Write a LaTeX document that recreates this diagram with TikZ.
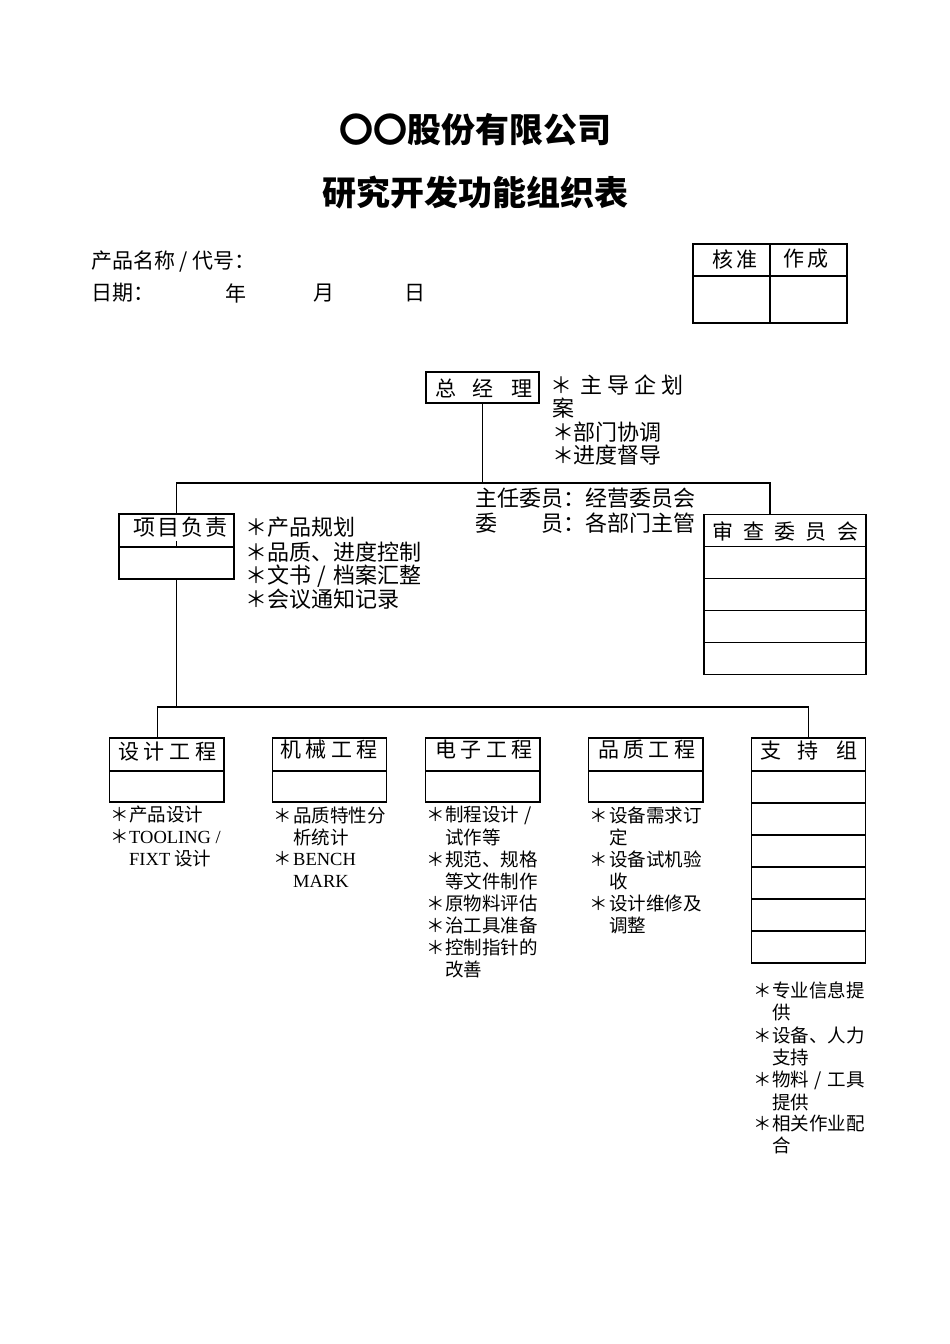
\documentclass[tikz,border=0pt]{standalone}
\usepackage{fontspec}
\setmainfont{Noto Sans CJK SC}
\newfontfamily\lat{Liberation Serif}
\newcommand\spreadtxt[2]{\makebox[#1][s]{#2}}
\newcommand\xing[1]{\makebox[#1][l]{\kern-0.22em ＊}}
\newcommand\slsh{\makebox[1em]{/}}
\begin{document}
\begin{tikzpicture}[x=1pt,y=-1pt,
  box/.style={draw, line width=1.1pt, inner sep=0pt, outer sep=0pt, minimum width=114.5pt},
  conn/.style={line width=1.1pt},
  ttl/.style={inner sep=0pt, font=\fontsize{34}{40}\selectfont\bfseries},
  hd/.style={inner sep=0pt, font=\fontsize{21}{25}\selectfont},
  note/.style={inner sep=0pt, anchor=west, font=\fontsize{22}{26}\selectfont},
  bt/.style={inner sep=0pt, font=\fontsize{21}{25}\selectfont},
  li/.style={inner sep=0pt, anchor=west, font=\fontsize{18.5}{22}\selectfont}]
\useasboundingbox (0,0) rectangle (950,1344);
% titles
\node[ttl] (t1) at (475,130) {〇〇股份有限公司};
\node[ttl] (t2) at (475,193) {研究开发功能组织表};
% header
\node[hd, anchor=west] (pn) at (91,262) {产品名称 / 代号：};
\node[hd, anchor=west] (dt) at (91,293) {日期：};
\node[hd] (yr) at (236,293) {年};
\node[hd] (mo) at (324,293) {月};
\node[hd] (dy) at (415,293) {日};
% approval table
\node[box, minimum width=77pt, minimum height=32pt] (ap1) at (731.5,260) {};
\node[box, minimum width=77pt, minimum height=32pt] (ap2) at (808.5,260) {};
\node[box, minimum width=77pt, minimum height=47pt] (ap3) at (731.5,299.5) {};
\node[box, minimum width=77pt, minimum height=47pt] (ap4) at (808.5,299.5) {};
\node[hd] (apt1) at (735,259) {\spreadtxt{46pt}{核\hfill 准}};
\node[hd] (apt2) at (806,259) {\spreadtxt{46pt}{作\hfill 成}};
% general manager
\node[box, minimum width=113pt, minimum height=31pt] (gm) at (482.5,387.5) {};
\node[bt] (gmt) at (483.5,388) {\spreadtxt{97pt}{总\hfill 经\hfill 理}};
\node[note] (g1) at (555,385) {\xing{25pt}\spreadtxt{103pt}{主\hfill 导\hfill 企\hfill 划}};
\node[note] (g2) at (552,408) {案};
\node[note] (g3) at (557,432) {\xing{16pt}部门协调};
\node[note] (g4) at (557,455) {\xing{16pt}进度督导};
\node[note] (c1) at (475,498) {主任委员：经营委员会};
\node[note] (c2) at (475,523) {委\hspace{2em}员：各部门主管};
% project lead
\node[box, minimum width=115pt, minimum height=33pt] (pm) at (176.5,530.5) {};
\node[box, minimum width=115pt, minimum height=32pt] (pm2) at (176.5,563) {};
\node[bt, font=\fontsize{22}{26}\selectfont] (pmt) at (180.5,527) {\spreadtxt{95pt}{项\hfill 目\hfill 负\hfill 责}};
\node[note] (p1) at (250,527) {\xing{17pt}产品规划};
\node[note] (p2) at (250,552) {\xing{17pt}品质、进度控制};
\node[note] (p3) at (250,576) {\xing{17pt}文书\slsh 档案汇整};
\node[note] (p4) at (250,599) {\xing{17pt}会议通知记录};
% review committee
\foreach \i in {1,...,5} {
  \node[box, minimum width=162pt, minimum height=32pt] (rv\i) at (785,{515+31.8*(\i-0.5)}) {};
}
\node[bt] (rvt) at (785,531) {\spreadtxt{146pt}{审\hfill 查\hfill 委\hfill 员\hfill 会}};
% bottom boxes
\node[box, minimum height=33pt] (ds) at (166.75,754.5) {};
\node[box, minimum height=31pt] (ds2) at (166.75,786.5) {};
\node[box, minimum height=33pt] (mc) at (329.5,754.5) {};
\node[box, minimum height=31pt] (mc2) at (329.5,786.5) {};
\node[box, minimum height=33pt] (el) at (482.75,754.5) {};
\node[box, minimum height=31pt] (el2) at (482.75,786.5) {};
\node[box, minimum height=33pt] (ql) at (645.75,754.5) {};
\node[box, minimum height=31pt] (ql2) at (645.75,786.5) {};
\node[box, minimum height=33pt] (sp) at (808.5,754.5) {};
\foreach \i in {2,...,7} {
  \node[box, minimum height=32pt] (sp\i) at (808.5,{771+32*(\i-1.5)}) {};
}
\node[bt] (dst) at (167.5,752) {\spreadtxt{99pt}{设\hfill 计\hfill 工\hfill 程}};
\node[bt] (mct) at (329,750) {\spreadtxt{98pt}{机\hfill 械\hfill 工\hfill 程}};
\node[bt] (elt) at (484,750) {\spreadtxt{98pt}{电\hfill 子\hfill 工\hfill 程}};
\node[bt] (qlt) at (646.5,750) {\spreadtxt{97pt}{品\hfill 质\hfill 工\hfill 程}};
\node[bt] (spt) at (808.5,751) {\spreadtxt{97pt}{支\hfill 持\hfill 组}};
% design list
\node[li] (d1) at (114,815) {\xing{15pt}产品设计};
\node[li] (d2) at (114,837) {\xing{15pt}{\lat TOOLING /}};
\node[li] (d3) at (129,859) {{\lat FIXT} 设计};
% mechanical list
\node[li] (m1) at (277,815) {\xing{16pt}品质特性分};
\node[li] (m2) at (293,837) {析统计};
\node[li] (m3) at (277,859) {\xing{16pt}{\lat BENCH}};
\node[li] (m4) at (293,881) {\lat MARK};
% electronics list
\node[li] (e1) at (430,815) {\xing{15pt}制程设计\slsh};
\node[li] (e2) at (445,837) {试作等};
\node[li] (e3) at (430,859) {\xing{15pt}规范、规格};
\node[li] (e4) at (445,881) {等文件制作};
\node[li] (e5) at (430,903) {\xing{15pt}原物料评估};
\node[li] (e6) at (430,925) {\xing{15pt}治工具准备};
\node[li] (e7) at (430,947) {\xing{15pt}控制指针的};
\node[li] (e8) at (445,969) {改善};
% quality list
\node[li] (q1) at (593,815) {\xing{16pt}设备需求订};
\node[li] (q2) at (609,837) {定};
\node[li] (q3) at (593,859) {\xing{16pt}设备试机验};
\node[li] (q4) at (609,881) {收};
\node[li] (q5) at (593,903) {\xing{16pt}设计维修及};
\node[li] (q6) at (609,925) {调整};
% support list
\node[li] (s1) at (757,990) {\xing{15pt}专业信息提};
\node[li] (s2) at (772,1012) {供};
\node[li] (s3) at (757,1035) {\xing{15pt}设备、人力};
\node[li] (s4) at (772,1057) {支持};
\node[li] (s5) at (757,1080) {\xing{15pt}物料\slsh 工具};
\node[li] (s6) at (772,1102) {提供};
\node[li] (s7) at (757,1123) {\xing{15pt}相关作业配};
\node[li] (s8) at (772,1145) {合};
% connectors
\coordinate (j1) at (gm.south |- 0,483);
\coordinate (bl) at (pm.north |- 0,483);
\coordinate (br) at (770,483);
\draw[conn] (gm.south) -- (j1);
\draw[conn] (pm.north) -- (bl) -- (br) -- (br |- rv1.north);
\coordinate (tk) at (pm.south |- 0,541);
\draw[conn] (tk) -- (pm.south);
\coordinate (kl) at (157.5,707);
\coordinate (kr) at (sp.north |- 0,707);
\coordinate (kp) at (pm2.south |- 0,707);
\draw[conn] (pm2.south) -- (kp);
\draw[conn] (kl |- ds.north) -- (kl) -- (kr) -- (sp.north);
\end{tikzpicture}
\end{document}
